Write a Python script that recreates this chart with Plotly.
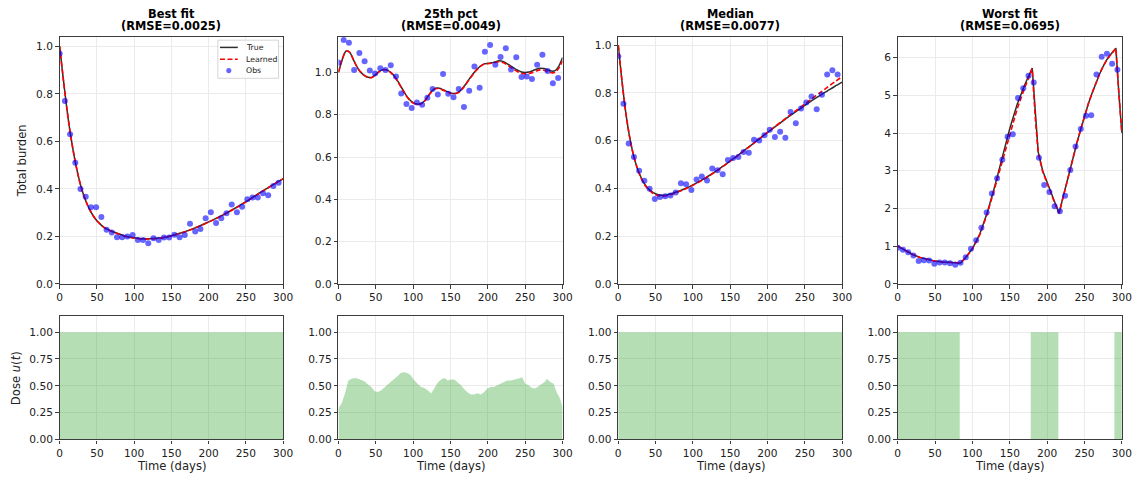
import plotly.graph_objects as go

# ---------------- data ----------------
obs_t = [0, 7, 14, 21, 28, 35, 42, 49, 56, 63, 70, 77, 84, 91, 98, 105, 112, 119, 126, 133, 140,
         147, 154, 161, 168, 175, 182, 189, 196, 203, 210, 217, 224, 231, 238, 245, 252, 259,
         266, 273, 280, 287, 294]

best_obs = [0.97, 0.77, 0.63, 0.51, 0.40, 0.367, 0.323, 0.323, 0.282, 0.228, 0.217, 0.197, 0.197,
            0.20, 0.206, 0.185, 0.185, 0.171, 0.192, 0.185, 0.195, 0.195, 0.207, 0.197, 0.206,
            0.253, 0.221, 0.231, 0.277, 0.302, 0.256, 0.277, 0.298, 0.334, 0.302, 0.325, 0.356,
            0.364, 0.364, 0.382, 0.373, 0.412, 0.426]
p25_obs = [1.047, 1.153, 1.140, 1.011, 1.092, 1.053, 1.009, 0.995, 1.019, 1.011, 1.034, 0.980,
           0.900, 0.850, 0.832, 0.858, 0.847, 0.880, 0.922, 0.896, 0.992, 0.899, 0.883, 0.922,
           0.836, 0.913, 1.028, 0.927, 1.098, 1.129, 1.036, 1.073, 1.114, 1.014, 1.072, 0.978,
           0.980, 0.969, 1.036, 1.083, 1.006, 0.949, 0.974]
med_obs = [0.954, 0.755, 0.588, 0.532, 0.474, 0.432, 0.399, 0.356, 0.364, 0.367, 0.370, 0.383,
           0.422, 0.418, 0.393, 0.437, 0.450, 0.433, 0.484, 0.476, 0.459, 0.519, 0.528, 0.532,
           0.553, 0.550, 0.604, 0.601, 0.623, 0.646, 0.615, 0.637, 0.612, 0.720, 0.673, 0.735,
           0.760, 0.785, 0.732, 0.792, 0.877, 0.895, 0.877]
worst_obs = [0.961, 0.908, 0.838, 0.751, 0.611, 0.629, 0.620, 0.533, 0.568, 0.568, 0.550, 0.507,
             0.559, 0.707, 0.934, 1.16, 1.49, 1.895, 2.40, 2.80, 3.29, 3.90, 3.97, 4.93, 5.19,
             5.52, 5.34, 3.345, 2.62, 2.44, 2.06, 1.93, 2.34, 3.02, 3.64, 4.11, 4.46, 4.47, 5.55,
             6.02, 6.10, 5.84, 5.68]

best_t = [0, 5, 10, 15, 20, 25, 30, 35, 40, 45, 50, 55, 60, 70, 80, 90, 100, 110, 120, 130, 140,
          150, 160, 170, 180, 190, 200, 210, 220, 230, 240, 250, 260, 270, 280, 290, 300]
best_true = [1.0, 0.86, 0.73, 0.62, 0.53, 0.455, 0.395, 0.35, 0.315, 0.287, 0.266, 0.25, 0.237,
             0.222, 0.21, 0.2, 0.194, 0.19, 0.19, 0.192, 0.196, 0.203, 0.212, 0.222, 0.234, 0.247,
             0.261, 0.276, 0.292, 0.309, 0.327, 0.346, 0.366, 0.386, 0.405, 0.424, 0.442]
best_learned = [1.0, 0.86, 0.73, 0.62, 0.53, 0.455, 0.395, 0.35, 0.315, 0.287, 0.266, 0.25, 0.237,
                0.221, 0.209, 0.199, 0.193, 0.189, 0.189, 0.191, 0.195, 0.202, 0.211, 0.221, 0.233,
                0.246, 0.26, 0.275, 0.291, 0.308, 0.326, 0.345, 0.365, 0.385, 0.405, 0.424, 0.443]

p25_t = list(range(0, 301, 5))
p25_true = [1.0, 1.06, 1.10, 1.095, 1.06, 1.025, 1.0, 0.985, 0.977, 0.977, 0.99, 1.005, 1.013,
            1.012, 1.0, 0.982, 0.955, 0.925, 0.895, 0.872, 0.857, 0.85, 0.852, 0.865, 0.888,
            0.912, 0.925, 0.925, 0.918, 0.91, 0.903, 0.9, 0.905, 0.92, 0.943, 0.968, 0.992, 1.013,
            1.03, 1.04, 1.043, 1.045, 1.05, 1.055, 1.052, 1.043, 1.032, 1.02, 1.01, 1.002, 1.0,
            1.002, 1.008, 1.015, 1.02, 1.018, 1.012, 1.006, 1.008, 1.03, 1.07]
p25_learned = [1.0, 1.06, 1.10, 1.095, 1.06, 1.025, 1.0, 0.985, 0.976, 0.976, 0.99, 1.005, 1.012,
               1.011, 0.999, 0.98, 0.953, 0.923, 0.893, 0.87, 0.855, 0.848, 0.85, 0.863, 0.886,
               0.91, 0.923, 0.923, 0.916, 0.908, 0.901, 0.898, 0.903, 0.918, 0.941, 0.966, 0.99,
               1.011, 1.028, 1.038, 1.041, 1.043, 1.047, 1.05, 1.047, 1.038, 1.026, 1.013, 1.003,
               0.996, 0.993, 0.995, 1.0, 1.007, 1.012, 1.01, 1.003, 0.998, 1.0, 1.02, 1.055]

med_t = [0, 5, 10, 15, 20, 25, 30, 35, 40, 45, 50, 55, 60, 65, 70, 80, 90, 100, 110, 120, 130,
         140, 150, 160, 170, 180, 190, 200, 210, 220, 230, 240, 250, 260, 270, 280, 290, 300]
med_true = [1.0, 0.85, 0.72, 0.62, 0.545, 0.49, 0.45, 0.42, 0.4, 0.387, 0.378, 0.373, 0.372,
            0.373, 0.377, 0.387, 0.4, 0.415, 0.432, 0.45, 0.47, 0.492, 0.515, 0.538, 0.562, 0.586,
            0.61, 0.634, 0.658, 0.681, 0.704, 0.726, 0.748, 0.769, 0.789, 0.808, 0.827, 0.845]
med_learned = [1.0, 0.85, 0.72, 0.62, 0.545, 0.49, 0.448, 0.417, 0.397, 0.383, 0.374, 0.369,
               0.368, 0.37, 0.374, 0.385, 0.398, 0.413, 0.43, 0.449, 0.469, 0.491, 0.514, 0.537,
               0.561, 0.585, 0.61, 0.635, 0.659, 0.683, 0.707, 0.73, 0.753, 0.777, 0.8, 0.823,
               0.846, 0.868]

worst_t = [0, 10, 20, 30, 40, 50, 60, 70, 80, 84, 90, 100, 110, 120, 130, 140, 150, 160, 170, 180,
           184, 188, 194, 200, 205, 210, 216, 220, 225, 230, 235, 240, 245, 250, 255, 260, 265,
           270, 275, 280, 285, 290, 292, 296, 300]
worst_true = [1.0, 0.88, 0.78, 0.70, 0.645, 0.605, 0.58, 0.567, 0.56, 0.556, 0.68, 0.94, 1.33,
              1.9, 2.6, 3.34, 4.12, 4.77, 5.28, 5.72, 4.45, 3.5, 3.0, 2.68, 2.4, 2.16, 1.87, 2.2,
              2.6, 3.0, 3.38, 3.75, 4.1, 4.45, 4.77, 5.05, 5.32, 5.56, 5.77, 5.95, 6.08, 6.2, 6.25,
              5.05, 4.0]
worst_learned = [1.0, 0.88, 0.78, 0.70, 0.645, 0.605, 0.58, 0.567, 0.56, 0.556, 0.67, 0.93, 1.31,
                 1.87, 2.55, 3.24, 3.98, 4.65, 5.2, 5.7, 4.43, 3.48, 2.98, 2.67, 2.39, 2.15, 1.88,
                 2.2, 2.6, 3.0, 3.38, 3.75, 4.1, 4.45, 4.77, 5.05, 5.32, 5.56, 5.77, 5.95, 6.08,
                 6.19, 6.24, 5.05, 4.0]

dose_full_t = [0, 300]
dose_full_u = [1.0, 1.0]
dose_p25_t = [0, 4.4, 8.8, 13.2, 17.6, 22, 26.5, 31, 35.3, 39.7, 44, 48.5, 53, 57.4, 62, 66, 70.5,
              75, 79.5, 84, 88.4, 93, 97, 101.7, 106, 110.6, 115, 119.5, 124, 128, 133, 137.5, 142,
              146.4, 150.8, 155.2, 159.6, 164, 168.5, 173, 177.3, 181.7, 186, 190.6, 195, 199.4,
              203.8, 208, 212.7, 217, 221.5, 226, 230.4, 234.8, 239, 243.6, 246, 250, 254.7, 259,
              263.5, 268, 272.3, 276.7, 279, 283.5, 288, 292, 296.6, 300]
dose_p25_u = [0.29, 0.337, 0.43, 0.55, 0.566, 0.572, 0.566, 0.55, 0.541, 0.511, 0.489, 0.45, 0.443,
              0.459, 0.489, 0.52, 0.541, 0.566, 0.596, 0.621, 0.627, 0.618, 0.596, 0.55, 0.52,
              0.489, 0.48, 0.459, 0.428, 0.468, 0.53, 0.56, 0.572, 0.55, 0.56, 0.56, 0.535, 0.505,
              0.468, 0.437, 0.42, 0.42, 0.43, 0.42, 0.443, 0.474, 0.489, 0.489, 0.505, 0.52, 0.541,
              0.55, 0.55, 0.556, 0.566, 0.572, 0.58, 0.52, 0.505, 0.48, 0.474, 0.498, 0.52, 0.541,
              0.566, 0.535, 0.52, 0.443, 0.382, 0.30]
dose_worst_t = [0, 83, 178, 215, 290, 300]
dose_worst_u = [1.0, 0.0, 1.0, 0.0, 1.0, 1.0]

titles = ["Best fit", "25th pct", "Median", "Worst fit"]
rmse = ["0.0025", "0.0049", "0.0077", "0.0695"]
legend_labels = ["True", "Learned", "Obs"]
top_ymax = [1.04, 1.168, 1.035, 6.55]
top_ticks = [[0, 0.2, 0.4, 0.6, 0.8, 1.0]] * 3 + [[0, 1, 2, 3, 4, 5, 6]]
dose_ticks = [0, 0.25, 0.5, 0.75, 1.0]
x_ticks = [0, 50, 100, 150, 200, 250, 300]

# ---------------- layout geometry ----------------
W, H = 1146, 485
col_px = [(57.3, 283.3), (339.3, 566.0), (622.3, 848.7), (905.0, 1131.7)]
top_px = (37.3, 287.5)
bot_px = (320.0, 445.0)


def px_x(v):
    return v / W


def px_y(v):
    return 1 - v / H


FONT = "DejaVu Sans"
TRUE_C = "rgba(0,0,0,0.82)"
LEARN_C = "#ff0000"
OBS_C = "rgba(0,0,255,0.6)"
FILL_C = "rgba(44,160,44,0.35)"

fig = go.Figure()

curves = [
    (best_t, best_true, best_learned, best_obs, "spline"),
    (p25_t, p25_true, p25_learned, p25_obs, "spline"),
    (med_t, med_true, med_learned, med_obs, "spline"),
    (worst_t, worst_true, worst_learned, worst_obs, "linear"),
]
doses = [
    (dose_full_t, dose_full_u),
    (dose_p25_t, dose_p25_u),
    (dose_full_t, dose_full_u),
    (dose_worst_t, dose_worst_u),
]

for i, (tt, tr, le, ob, shp) in enumerate(curves):
    xa = "x" if i == 0 else f"x{i + 1}"
    ya = "y" if i == 0 else f"y{i + 1}"
    fig.add_trace(go.Scatter(x=tt, y=tr, mode="lines", name="True", showlegend=False,
                             line=dict(color=TRUE_C, width=1.5, shape=shp, smoothing=0.8),
                             xaxis=xa, yaxis=ya))
    fig.add_trace(go.Scatter(x=tt, y=le, mode="lines", name="Learned", showlegend=False,
                             line=dict(color=LEARN_C, width=1.6, dash="5px,2.5px", shape=shp,
                                       smoothing=0.8),
                             xaxis=xa, yaxis=ya))
    fig.add_trace(go.Scatter(x=obs_t, y=ob, mode="markers", name="Obs", showlegend=False,
                             marker=dict(color=OBS_C, size=6, line=dict(width=0)),
                             xaxis=xa, yaxis=ya))

for i, (dt, du) in enumerate(doses):
    xa = f"x{i + 5}"
    ya = f"y{i + 5}"
    fig.add_trace(go.Scatter(x=dt, y=du, mode="lines", fill="tozeroy", fillcolor=FILL_C,
                             line=dict(width=0, color="rgba(0,0,0,0)",
                                       shape="hv" if i != 1 else "linear"),
                             showlegend=False, hoverinfo="skip", xaxis=xa, yaxis=ya))

axis_common = dict(
    showgrid=True, gridcolor="#ebebeb", gridwidth=0.8, zeroline=False,
    showline=True, mirror=True, linecolor="#3c3c3c", linewidth=1.2,
    ticks="outside", ticklen=3.5, tickwidth=0.8, tickcolor="#3c3c3c",
    tickfont=dict(family=FONT, size=10.6, color="#222"),
)

layout = dict(
    width=W, height=H, margin=dict(l=0, r=0, t=0, b=0),
    paper_bgcolor="white", plot_bgcolor="white",
    font=dict(family=FONT, color="#222"),
    showlegend=False,
)

annotations = []
shapes = []
for i in range(4):
    x0, x1 = col_px[i]
    sfx = "" if i == 0 else str(i + 1)
    layout[f"xaxis{sfx}"] = dict(axis_common, domain=[px_x(x0), px_x(x1)], range=[0, 300],
                                 tickvals=x_ticks, anchor=f"y{sfx}")
    layout[f"yaxis{sfx}"] = dict(axis_common, domain=[px_y(top_px[1]), px_y(top_px[0])],
                                 range=[0, top_ymax[i]], tickvals=top_ticks[i],
                                 tickformat=".1f" if i < 3 else "d", anchor=f"x{sfx}")
    b = str(i + 5)
    layout[f"xaxis{b}"] = dict(axis_common, domain=[px_x(x0), px_x(x1)], range=[0, 300],
                               tickvals=x_ticks, anchor=f"y{b}")
    layout[f"yaxis{b}"] = dict(axis_common, domain=[px_y(bot_px[1]), px_y(bot_px[0])],
                               range=[0, 1.15], tickvals=dose_ticks, tickformat=".2f",
                               anchor=f"x{b}")
    cx = px_x((x0 + x1) / 2)
    annotations.append(dict(text=f"<b>{titles[i]}</b>", x=cx, y=px_y(14), xref="paper",
                            yref="paper", showarrow=False, xanchor="center", yanchor="middle",
                            font=dict(family=FONT, size=11.4, color="black")))
    annotations.append(dict(text=f"<b>(RMSE={rmse[i]})</b>", x=cx, y=px_y(26.5), xref="paper",
                            yref="paper", showarrow=False, xanchor="center", yanchor="middle",
                            font=dict(family=FONT, size=11.4, color="black")))
    annotations.append(dict(text="Time (days)", x=cx, y=px_y(472), xref="paper", yref="paper",
                            showarrow=False, xanchor="center", yanchor="middle",
                            font=dict(family=FONT, size=11.6, color="#222")))

annotations.append(dict(text="Total burden", x=px_x(20), y=px_y((top_px[0] + top_px[1]) / 2),
                        xref="paper", yref="paper", showarrow=False, textangle=-90,
                        xanchor="center", yanchor="middle",
                        font=dict(family=FONT, size=11.6, color="#222")))
annotations.append(dict(text="Dose <i>u</i>(<i>t</i>)", x=px_x(12.5),
                        y=px_y((bot_px[0] + bot_px[1]) / 2),
                        xref="paper", yref="paper", showarrow=False, textangle=-90,
                        xanchor="center", yanchor="middle",
                        font=dict(family=FONT, size=11.6, color="#222")))

# ---- legend (drawn compactly, matching the small boxed legend of the first panel) ----
shapes.append(dict(type="rect", xref="paper", yref="paper",
                   x0=px_x(217.3), x1=px_x(278.7), y0=px_y(79.3), y1=px_y(40.7),
                   fillcolor="rgba(255,255,255,0.85)", line=dict(color="#cccccc", width=0.8),
                   layer="above"))
row_y = [48.0, 60.0, 71.5]
shapes.append(dict(type="line", xref="paper", yref="paper", x0=px_x(219.5), x1=px_x(237.5),
                   y0=px_y(row_y[0]), y1=px_y(row_y[0]), line=dict(color=TRUE_C, width=1.5),
                   layer="above"))
shapes.append(dict(type="line", xref="paper", yref="paper", x0=px_x(219.5), x1=px_x(237.5),
                   y0=px_y(row_y[1]), y1=px_y(row_y[1]),
                   line=dict(color=LEARN_C, width=1.6, dash="5px,2.5px"), layer="above"))
shapes.append(dict(type="circle", xref="paper", yref="paper", x0=px_x(225.8), x1=px_x(231.0),
                   y0=px_y(row_y[2] + 2.6), y1=px_y(row_y[2] - 2.6),
                   fillcolor=OBS_C, line=dict(width=0), layer="above"))
for lbl, ry in zip(legend_labels, row_y):
    annotations.append(dict(text=lbl, x=px_x(243.3), y=px_y(ry), xref="paper", yref="paper",
                            showarrow=False, xanchor="left", yanchor="middle",
                            font=dict(family=FONT, size=7.8, color="#222")))

layout["annotations"] = annotations
layout["shapes"] = shapes

fig.update_layout(**layout)
fig.write_html("out.html")
